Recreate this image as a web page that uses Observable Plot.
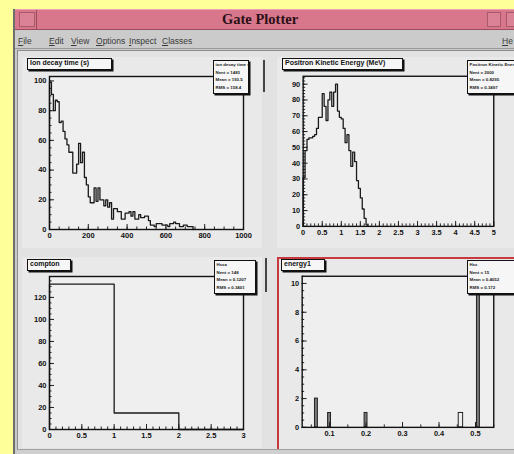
<!DOCTYPE html>
<html><head><meta charset="utf-8">
<script src="https://cdn.jsdelivr.net/npm/d3@7"></script>
<script src="https://cdn.jsdelivr.net/npm/@observablehq/plot@0.6"></script>
<style>
body{margin:0;}
#root{position:relative;width:514px;height:454px;background:#ffff9a;overflow:hidden;font-family:"Liberation Sans",Arial,sans-serif;}
.a{position:absolute;box-sizing:border-box;}
.menu{position:absolute;top:36px;font-size:8.5px;color:#3a3a3a;font-family:"Liberation Sans",Arial,sans-serif;white-space:nowrap;}
.pad{position:absolute;background:#e9e9e9;}
.tbox{position:absolute;background:#f6f6f6;border:1px solid #111;box-shadow:1.5px 1.5px 0 #111;font-size:7px;font-weight:bold;line-height:7px;padding:0 2px;white-space:nowrap;overflow:hidden;color:#111;}
.sbox{position:absolute;background:#f6f6f6;border:1px solid #111;box-shadow:1.5px 1.5px 0 #111;font-size:4.4px;font-weight:bold;line-height:7.6px;padding:0 1.5px;white-space:nowrap;overflow:hidden;color:#222;}
.plot{position:absolute;}
</style></head><body><div id="root">
<div class="a" style="left:13px;top:9px;width:520px;height:450px;background:#c9c9c9;border-left:2px solid #6e6e6e;"></div>
<div class="a" style="left:15px;top:9px;width:520px;height:21px;background:#d8778c;border-top:1px solid #e9a3b2;border-bottom:1px solid #9b4d5d;"></div>
<div class="a" style="left:19px;top:12px;width:16px;height:15px;border:1px solid #a85a6a;background:#dc8296;"></div>
<div class="a" style="left:36px;top:10px;width:1px;height:20px;background:#9b4d5d;"></div>
<div class="a" style="left:487px;top:12px;width:14px;height:15px;border:1px solid #a85a6a;background:#dc8296;"></div>
<div class="a" style="left:506px;top:12px;width:14px;height:15px;border:1px solid #a85a6a;background:#dc8296;"></div>
<div class="a" style="left:222px;top:11px;font-family:'Liberation Serif',serif;font-weight:bold;font-size:14.5px;color:#2a1015;">Gate Plotter</div>
<div class="a" style="left:15px;top:31px;width:520px;height:18px;background:#cbcbcb;border-bottom:1px solid #9a9a9a;"></div>
<div class="menu" style="left:18px;"><u>F</u>ile</div>
<div class="menu" style="left:49px;"><u>E</u>dit</div>
<div class="menu" style="left:71px;"><u>V</u>iew</div>
<div class="menu" style="left:96px;"><u>O</u>ptions</div>
<div class="menu" style="left:129px;"><u>I</u>nspect</div>
<div class="menu" style="left:162px;"><u>C</u>lasses</div>
<div class="menu" style="left:502px;"><u>H</u>e</div>
<div class="a" style="left:17px;top:50px;width:510px;height:400px;background:#e2e2e2;border-top:1px solid #8c8c8c;border-left:1px solid #8c8c8c;"></div>
<div class="pad" style="left:22px;top:57px;width:240px;height:191px;"></div>
<div class="pad" style="left:277px;top:57px;width:240px;height:191px;"></div>
<div class="pad" style="left:22px;top:257px;width:240px;height:191px;"></div>
<div class="pad" style="left:277px;top:257px;width:240px;height:191px;border:2px solid #c8393f;"></div>
<div class="a" style="left:263px;top:60px;width:2px;height:32px;background:#444;"></div>
<div class="a" style="left:265px;top:258px;width:2px;height:34px;background:#444;"></div>
<div class="a" style="left:17px;top:449px;width:510px;height:6px;background:#cfcfcf;border-top:1px solid #a0a0a0;"></div>
<div id="p1" class="plot" style="left:22px;top:58px;"></div>
<div id="p2" class="plot" style="left:277px;top:58px;"></div>
<div id="p3" class="plot" style="left:22px;top:258px;"></div>
<div id="p4" class="plot" style="left:277px;top:258px;"></div>
<div class="tbox" style="left:27px;top:58px;width:79px;height:10px;">Ion decay time (s)</div>
<div class="tbox" style="left:282px;top:58px;width:115px;height:10px;">Positron Kinetic Energy (MeV)</div>
<div class="tbox" style="left:27px;top:259px;width:38px;height:10px;">compton</div>
<div class="tbox" style="left:281px;top:259px;width:38px;height:10px;">energy1</div>
<div class="sbox" style="left:213px;top:60px;width:31px;height:32px;">ion decay time s<br>Nent = 1483<br>Mean = 193.5<br>RMS = 158.4</div>
<div class="sbox" style="left:467px;top:60px;width:47px;height:32px;">Positron Kinetic Ener<br>Nent = 2000<br>Mean = 0.8295<br>RMS = 0.3497</div>
<div class="sbox" style="left:214px;top:260px;width:37px;height:32px;">Hcsa<br>Nent = 148<br>Mean = 0.1207<br>RMS = 0.3401</div>
<div class="sbox" style="left:467px;top:260px;width:47px;height:32px;">Hcs<br>Nent = 15<br>Mean = 0.4052<br>RMS = 0.172</div>
</div>
<script>
// ---- data ----
const decayBinWidth = 10;
const decayCounts = [99,91,80,87,86,72,73,66,61,57,52,52,38,38,44,58,45,52,35,30,22,18,18,28,19,28,20,20,16,20,15,18,7,14,14,12,12,7,7,11,11,12,9,12,7,7,10,8,8,9,9,6,3,3,2,4,4,4,3,3,3,2,4,4,5,4,4,2,2,3,3,2,2,2];
const positronBinWidth = 0.05;
const positronCounts = [31,48,55,56,56,57,58,62,69,69,84,76,67,80,85,76,85,90,73,69,68,62,53,58,48,38,47,41,29,24,18,11,5,1];
const comptonBinWidth = 1;
const comptonCounts = [132,15,0];
const energyLo = [0.060,0.096,0.196,0.454,0.504];
const energyHi = [0.068,0.104,0.204,0.466,0.512];
const energyCounts = [2,1,1,1,10];

const decayXTicks = [0,200,400,600,800,1000];
const decayYTicks = [0,20,40,60,80,100];
const positronXTicks = [0,0.5,1,1.5,2,2.5,3,3.5,4,4.5,5];
const positronYTicks = [0,10,20,30,40,50,60,70,80,90];
const comptonXTicks = [0,0.5,1,1.5,2,2.5,3];
const comptonYTicks = [0,20,40,60,80,100,120];
const energyXTicks = [0.1,0.2,0.3,0.4,0.5];
const energyYTicks = [0,2,4,6,8,10];

function steps(counts, w) {
  const pts = [{x: 0, y: 0}];
  counts.forEach((c, i) => pts.push({x: i * w, y: c}));
  pts.push({x: counts.length * w, y: 0});
  return pts;
}

function panel(id, o) {
  const W = 240, H = 190;
  const fw = W - o.mL - o.mR, fh = H - o.mT - o.mB;
  const minorX = d3.range(o.xMinor[0], o.xMinor[1] + 1e-9, o.xMinor[2]);
  const minorY = d3.range(o.yMinor[0], o.yMinor[1] + 1e-9, o.yMinor[2]);
  const fmt = d => String(+d.toFixed(3));
  const chart = Plot.plot({
    width: W, height: H,
    marginLeft: o.mL, marginRight: o.mR, marginTop: o.mT, marginBottom: o.mB,
    x: {domain: o.xDomain, label: null}, y: {domain: o.yDomain, label: null},
    style: {background: "transparent", fontFamily: "Liberation Sans, Arial, sans-serif", overflow: "visible"},
    marks: [
      Plot.frame({fill: "#efefef"}),
      ...o.marks,
      Plot.tickY(minorY, {y: d => d, insetRight: fw - 2.5, stroke: "#222"}),
      Plot.tickY(o.yTicks, {y: d => d, insetRight: fw - 5, stroke: "#222"}),
      Plot.tickX(minorX, {x: d => d, insetTop: fh - 2.5, stroke: "#222"}),
      Plot.tickX(o.xTicks, {x: d => d, insetTop: fh - 5, stroke: "#222"}),
      Plot.axisY(o.yTicks, {tickSize: 0, tickPadding: 3, tickFormat: fmt, label: null, fontSize: 7.5, fontWeight: "bold", fill: "#111"}),
      Plot.axisX(o.xTicks, {tickSize: 0, tickPadding: 3, tickFormat: fmt, label: null, fontSize: 7.5, fontWeight: "bold", fill: "#111"}),
      Plot.frame({stroke: "#111", strokeWidth: 1.4})
    ]
  });
  document.getElementById(id).appendChild(chart);
}

const lineStyle = {x: "x", y: "y", curve: "step-after", stroke: "#1a1a1a", strokeWidth: 1.3};

panel("p1", {mL: 27, mR: 19, mT: 18, mB: 19, xDomain: [0, 1000], yDomain: [0, 103],
  xTicks: decayXTicks, yTicks: decayYTicks, xMinor: [0, 1000, 50], yMinor: [0, 100, 5],
  marks: [Plot.line(steps(decayCounts, decayBinWidth), lineStyle)]});

panel("p2", {mL: 26, mR: 21, mT: 18, mB: 20, xDomain: [0, 5], yDomain: [0, 95],
  xTicks: positronXTicks, yTicks: positronYTicks, xMinor: [0, 5, 0.1], yMinor: [0, 94, 2],
  marks: [Plot.line(steps(positronCounts, positronBinWidth), lineStyle)]});

panel("p3", {mL: 27, mR: 19, mT: 18, mB: 19, xDomain: [0, 3], yDomain: [0, 139],
  xTicks: comptonXTicks, yTicks: comptonYTicks, xMinor: [0, 3, 0.1], yMinor: [0, 135, 5],
  marks: [Plot.line(steps(comptonCounts, comptonBinWidth), lineStyle)]});

const energyData = energyLo.map((lo, i) => ({lo, hi: energyHi[i], count: energyCounts[i]}));
panel("p4", {mL: 25, mR: 21, mT: 18, mB: 19, xDomain: [0.025, 0.55], yDomain: [0, 10.5],
  xTicks: energyXTicks, yTicks: energyYTicks, xMinor: [0.05, 0.55, 0.05], yMinor: [0, 10.5, 0.5],
  marks: [Plot.rectY(energyData, {x1: "lo", x2: "hi", y: "count",
    fill: d => (d.hi - d.lo > 0.01 ? "none" : "#7a7a7a"), stroke: "#222", strokeWidth: 1})]});
</script>
</body></html>
